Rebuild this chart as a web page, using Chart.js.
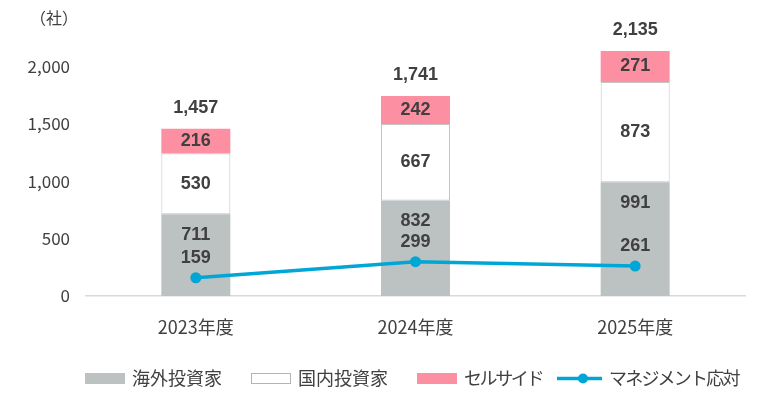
<!DOCTYPE html>
<html>
<head>
<meta charset="utf-8">
<script src="https://cdn.jsdelivr.net/npm/chart.js@4.4.1/dist/chart.umd.min.js"></script>
<style>
  html, body { margin: 0; padding: 0; background: #fff; }
  #wrap { width: 760px; height: 400px; }
</style>
</head>
<body>
<div id="wrap"><canvas id="companyChart" width="760" height="400"></canvas></div>
<script>
const years = ['2023年度', '2024年度', '2025年度'];
const overseas = [711, 832, 991];
const domestic = [530, 667, 873];
const sellSide = [216, 242, 271];
const management = [159, 299, 261];
const yTicks = [0, 500, 1000, 1500, 2000];

const GRAY = '#bcc1c1';
const PINK = '#fd8fa2';
const BLUE = '#00a7d6';
const TEXT = '#404040';
const JP_FONT = "'Noto Sans CJK JP', 'Noto Sans', sans-serif";
const NUM_FONT = "'Liberation Sans', Arial, sans-serif";

const totals = years.map((_, i) => overseas[i] + domestic[i] + sellSide[i]);

// kana labels in the original are set a little tighter than full width
const legendSpacing = ['0px', '0px', '-2.4px', '-1.8px'];
const legendGaps = [29, 29, 15, 0];

const labelPlugin = {
    id: 'valueLabels',
    afterDatasetsDraw(chart) {
        const ctx = chart.ctx;
        ctx.save();
        ctx.textAlign = 'center';
        ctx.textBaseline = 'middle';
        ctx.fillStyle = TEXT;
        ctx.font = 'bold 18px ' + NUM_FONT;

        const fmt = v => v.toLocaleString('en-US');

        chart.getDatasetMeta(0).data.forEach((bar, i) => {
            ctx.fillText(fmt(overseas[i]), bar.x, bar.y + 21);
        });
        chart.getDatasetMeta(1).data.forEach((bar, i) => {
            ctx.fillText(fmt(domestic[i]), bar.x, (bar.y + bar.base) / 2);
        });
        chart.getDatasetMeta(2).data.forEach((bar, i) => {
            ctx.fillText(fmt(sellSide[i]), bar.x, (bar.y + bar.base) / 2);
            ctx.fillText(fmt(totals[i]), bar.x, bar.y - 21);
        });
        chart.getDatasetMeta(3).data.forEach((pt, i) => {
            ctx.fillText(fmt(management[i]), pt.x, pt.y - 20);
        });

        // unit label
        ctx.font = '16px ' + JP_FONT;
        ctx.textAlign = 'right';
        ctx.fillText('（社）', 78, 18);
        ctx.restore();
    }
};

const legendPlugin = {
    id: 'customLegend',
    afterDraw(chart) {
        const ctx = chart.ctx;
        const y = 378.5;
        let x = 85;
        ctx.save();
        ctx.font = '18px ' + JP_FONT;
        ctx.textBaseline = 'middle';
        ctx.textAlign = 'left';
        chart.data.datasets.forEach((ds, i) => {
            if (ds.type === 'line') {
                ctx.strokeStyle = ds.borderColor;
                ctx.lineWidth = 3.5;
                ctx.beginPath();
                ctx.moveTo(x, y);
                ctx.lineTo(x + 45, y);
                ctx.stroke();
                ctx.fillStyle = ds.borderColor;
                ctx.beginPath();
                ctx.arc(x + 26, y, 5, 0, Math.PI * 2);
                ctx.fill();
                x += 52;
            } else {
                ctx.fillStyle = ds.backgroundColor;
                ctx.fillRect(x, y - 5.5, 40, 11);
                if (ds.borderWidth) {
                    ctx.strokeStyle = '#b4b4b4';
                    ctx.lineWidth = 1;
                    ctx.strokeRect(x + 0.5, y - 5, 39, 10);
                }
                x += 47;
            }
            ctx.fillStyle = TEXT;
            ctx.letterSpacing = legendSpacing[i];
            ctx.fillText(ds.label, x, y);
            x += ctx.measureText(ds.label).width + legendGaps[i];
        });
        ctx.restore();
    }
};

const config = {
    type: 'bar',
    data: {
        labels: years,
        datasets: [{
            label: '海外投資家',
            data: overseas,
            backgroundColor: GRAY,
            borderWidth: 0,
            stack: 'bars',
            order: 1,
        }, {
            label: '国内投資家',
            data: domestic,
            backgroundColor: '#ffffff',
            borderColor: '#c4c4c4',
            borderWidth: 1,
            borderSkipped: false,
            stack: 'bars',
            order: 1,
        }, {
            label: 'セルサイド',
            data: sellSide,
            backgroundColor: PINK,
            borderWidth: 0,
            stack: 'bars',
            order: 1,
        }, {
            type: 'line',
            label: 'マネジメント応対',
            data: management,
            borderColor: BLUE,
            backgroundColor: BLUE,
            borderWidth: 3.5,
            pointRadius: 5.5,
            pointHoverRadius: 5.5,
            pointBackgroundColor: BLUE,
            pointBorderWidth: 0,
            tension: 0,
            stack: 'mgmt',
            order: 0,
        }],
    },
    options: {
        responsive: false,
        animation: false,
        events: [],
        layout: {
            padding: { left: 0, right: 15, top: 8, bottom: 0 },
        },
        datasets: {
            bar: {
                categoryPercentage: 1,
                barPercentage: 0.314,
            },
        },
        scales: {
            x: {
                stacked: true,
                grid: { display: false, drawTicks: false },
                border: { display: true, color: '#d9d9d9', width: 1.5 },
                ticks: {
                    color: TEXT,
                    font: { family: JP_FONT, size: 18 },
                    padding: 20,
                },
                afterFit(scale) { scale.height = 104; },
            },
            y: {
                stacked: true,
                min: 0,
                max: 2350,
                grid: { display: false, drawTicks: false },
                border: { display: false },
                afterBuildTicks(scale) {
                    scale.ticks = yTicks.map(v => ({ value: v }));
                },
                ticks: {
                    color: TEXT,
                    font: { family: JP_FONT, size: 17 },
                    padding: 16,
                    callback: v => v.toLocaleString('en-US'),
                },
                afterFit(scale) { scale.width = 86; },
            },
        },
        plugins: {
            tooltip: { enabled: false },
            legend: { display: false },
        },
    },
    plugins: [labelPlugin, legendPlugin],
};

const chart = new Chart(document.getElementById('companyChart'), config);
</script>
</body>
</html>
